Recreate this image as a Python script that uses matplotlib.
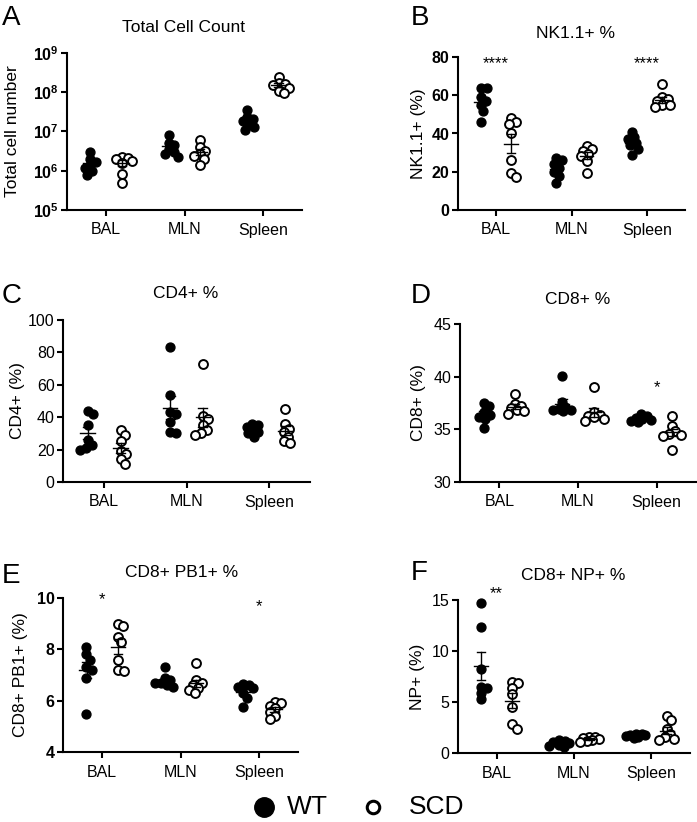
import numpy as np
import matplotlib
matplotlib.use("Agg")
import matplotlib.pyplot as plt
from matplotlib.lines import Line2D

plt.rcParams['font.family'] = ['Liberation Sans', 'DejaVu Sans']
plt.rcParams['mathtext.fontset'] = 'custom'
plt.rcParams['mathtext.rm'] = 'Liberation Sans'
plt.rcParams['mathtext.bf'] = 'Liberation Sans:bold'

categories = ["BAL", "MLN", "Spleen"]
groups = ["WT", "SCD"]

# ---- Panel A: Total cell count ----
total_wt = [[3.0e6, 2.0e6, 1.7e6, 1.4e6, 1.2e6, 1.0e6, 0.8e6],
            [8.2e6, 5.2e6, 4.5e6, 3.5e6, 3.0e6, 2.6e6, 2.3e6],
            [3.6e7, 2.3e7, 2.1e7, 1.8e7, 1.5e7, 1.3e7, 1.1e7]]
total_scd = [[2.3e6, 2.1e6, 2.0e6, 1.8e6, 1.6e6, 0.85e6, 0.5e6],
             [6.0e6, 4.0e6, 3.2e6, 2.6e6, 2.4e6, 2.0e6, 1.4e6],
             [2.5e8, 1.7e8, 1.6e8, 1.5e8, 1.3e8, 1.1e8, 0.95e8]]
total_ticks = [1e5, 1e6, 1e7, 1e8, 1e9]
total_ticklabels = [r'$\mathbf{10^{5}}$', r'$\mathbf{10^{6}}$', r'$\mathbf{10^{7}}$',
                    r'$\mathbf{10^{8}}$', r'$\mathbf{10^{9}}$']

# ---- Panel B: NK1.1+ % ----
nk_wt = [[64, 64, 59, 57, 55, 52, 46],
         [27, 26, 24, 22, 20, 18, 14],
         [41, 38, 37, 35, 34, 32, 29]]
nk_scd = [[48, 46, 45, 40, 26, 19.5, 17.5],
          [33.5, 32, 31, 29.5, 28, 25.5, 19.5],
          [66, 59, 58, 57, 55, 55, 54]]
nk_sig = ["****", "", "****"]
nk_ticks = [0, 20, 40, 60, 80]

# ---- Panel C: CD4+ % ----
cd4_wt = [[44, 42, 35, 26, 23, 21, 20],
          [83.5, 54, 43, 42, 37, 31, 30],
          [36, 35, 34, 33, 31, 30, 28]]
cd4_scd = [[32, 29, 25, 19, 17, 14, 11],
           [73, 41, 39, 35, 32, 30, 29],
           [45, 36, 33, 31, 28, 25, 24]]
cd4_ticks = [0, 20, 40, 60, 80, 100]

# ---- Panel D: CD8+ % ----
cd8_wt = [[37.5, 37.2, 36.6, 36.4, 36.2, 36.0, 35.1],
          [40.1, 37.6, 37.1, 36.9, 36.8, 36.8, 36.7],
          [36.5, 36.3, 36.1, 36.0, 35.9, 35.8, 35.7]]
cd8_scd = [[38.4, 37.4, 37.2, 37.0, 36.8, 36.7, 36.5],
           [39.0, 36.6, 36.4, 36.3, 36.2, 36.0, 35.8],
           [36.3, 35.3, 34.8, 34.6, 34.5, 34.4, 33.0]]
cd8_sig = ["", "", "*"]
cd8_ticks = [30, 35, 40, 45]

# ---- Panel E: CD8+ PB1+ % ----
pb1_wt = [[8.1, 7.8, 7.6, 7.3, 7.2, 6.9, 5.5],
          [7.3, 6.9, 6.8, 6.7, 6.7, 6.6, 6.55],
          [6.65, 6.6, 6.55, 6.5, 6.3, 6.1, 5.75]]
pb1_scd = [[9.0, 8.9, 8.5, 8.3, 7.6, 7.2, 7.15],
           [7.45, 6.8, 6.7, 6.6, 6.5, 6.4, 6.3],
           [5.95, 5.9, 5.8, 5.7, 5.55, 5.4, 5.3]]
pb1_sig = ["*", "", "*"]
pb1_sig_y = [9.95, 0, 9.65]
pb1_ticks = [4, 6, 8, 10]

# ---- Panel F: CD8+ NP+ % ----
np_wt = [[14.7, 12.4, 8.2, 6.5, 6.4, 5.9, 5.3],
         [1.3, 1.2, 1.1, 1.0, 0.8, 0.7, 0.6],
         [1.9, 1.85, 1.8, 1.75, 1.7, 1.6, 1.5]]
np_scd = [[7.0, 6.9, 6.4, 5.8, 4.5, 2.8, 2.4],
          [1.6, 1.6, 1.5, 1.4, 1.3, 1.2, 1.1],
          [3.6, 3.2, 2.4, 1.9, 1.6, 1.4, 1.3]]
np_sig = ["**", "", ""]
np_ticks = [0, 5, 10, 15]

W, H = 697, 822
fig = plt.figure(figsize=(W / 100, H / 100), dpi=100)


def ax_px(left, right, top, bottom):
    return fig.add_axes([left / W, 1 - bottom / H, (right - left) / W, (bottom - top) / H])


MS = 6.4
OFF = 0.2
SPREAD_PX = 6.0
MAX_OFF_PX = 10


def swarm_offsets(ax, xc, vals, diam_px):
    # simple beeswarm: horizontal pixel offsets limiting overlap
    disp = ax.transData.transform(np.column_stack([np.full(len(vals), xc), vals]))
    ys = disp[:, 1]
    order = np.argsort(-ys)
    placed = []
    offs = np.zeros(len(vals))
    for i in order:
        y = ys[i]
        cands = [0.0]
        for k in range(1, 40):
            cands += [k * 0.5, -k * 0.5]
        best = None
        bestd = -1
        for c in cands:
            if abs(c) > MAX_OFF_PX:
                continue
            d = min([np.hypot(c - px, y - py) for (px, py) in placed] or [1e9])
            if d >= diam_px:
                best = c
                break
            if d > bestd + 0.5:
                bestd = d
                fallback = c
        if best is None:
            best = fallback
        offs[i] = best
        placed.append((best, y))
    x0 = ax.transData.transform((xc, vals[0]))[0]
    inv = ax.transData.inverted()
    return np.array([inv.transform((x0 + offs[i], ys[i]))[0] for i in range(len(vals))])


def panel(ax, wt, scd, ylim, ticks, ticklabels=None, bold=False, log=False,
          ylabel="", sig=None, sig_y=None, xlim=(-0.5, 2.5)):
    if log:
        ax.set_yscale('log')
    ax.set_ylim(*ylim)
    ax.set_xlim(*xlim)
    for s in ['top', 'right']:
        ax.spines[s].set_visible(False)
    for s in ['left', 'bottom']:
        ax.spines[s].set_linewidth(1.5)
    ax.set_yticks(ticks)
    ax.minorticks_off()
    if ticklabels is not None:
        ax.set_yticklabels(ticklabels)
    ax.tick_params(axis='both', direction='out', length=4, width=1.5, labelsize=11.5)
    ax.tick_params(axis='x', pad=5)
    ax.tick_params(axis='y', pad=2)
    if bold:
        for t in ax.get_yticklabels():
            t.set_fontweight('bold')
    ax.set_xticks(range(len(categories)))
    ax.set_xticklabels(categories)
    ax.set_ylabel(ylabel, fontsize=12.5)
    for gi, (data, filled) in enumerate([(wt, True), (scd, False)]):
        for ci in range(len(categories)):
            vals = np.array(data[ci], dtype=float)
            xc = ci + (-OFF if gi == 0 else OFF)
            xs = swarm_offsets(ax, xc, vals, SPREAD_PX)
            if filled:
                ax.plot(xs, vals, 'o', ms=MS, mfc='black', mec='black', mew=1.0,
                        ls='none', zorder=3, clip_on=False)
            else:
                ax.plot(xs, vals, 'o', ms=MS, mfc='white', mec='black', mew=1.4,
                        ls='none', zorder=3, clip_on=False)
            m = vals.mean()
            se = vals.std(ddof=1) / np.sqrt(len(vals))
            ax.plot([xc - 0.09, xc + 0.09], [m, m], color='black', lw=1.0, zorder=4)
            ax.plot([xc, xc], [m - se, m + se], color='black', lw=1.0, zorder=4)
            for e in (m - se, m + se):
                ax.plot([xc - 0.055, xc + 0.055], [e, e], color='black', lw=1.0, zorder=4)
    if sig is not None:
        for ci, s in enumerate(sig):
            if s:
                yy = sig_y[ci] if isinstance(sig_y, (list, tuple)) else sig_y
                ax.text(ci, yy, s, ha='center', va='center', fontsize=12, clip_on=False)


axA = ax_px(67, 302, 53, 210)
panel(axA, total_wt, total_scd, (1e5, 1e9), total_ticks, total_ticklabels,
      bold=True, log=True, ylabel="Total cell number")
axA.yaxis.set_label_coords(-0.2, 0.5)

axB = ax_px(458, 685, 57, 210)
panel(axB, nk_wt, nk_scd, (0, 80), nk_ticks, bold=True, ylabel="NK1.1+ (%)",
      sig=nk_sig, sig_y=76.5)
axB.yaxis.set_label_coords(-0.141, 0.5)

axC = ax_px(63, 310, 320, 482)
panel(axC, cd4_wt, cd4_scd, (0, 100), cd4_ticks, ylabel="CD4+ (%)")
axC.yaxis.set_label_coords(-0.154, 0.5)

axD = ax_px(460, 696, 324, 482)
panel(axD, cd8_wt, cd8_scd, (30, 45), cd8_ticks, ylabel="CD8+ (%)",
      sig=cd8_sig, sig_y=39.0)
axD.yaxis.set_label_coords(-0.144, 0.5)

axE = ax_px(63, 298, 598, 752)
panel(axE, pb1_wt, pb1_scd, (4, 10), pb1_ticks, bold=True, ylabel="CD8+ PB1+ (%)",
      sig=pb1_sig, sig_y=pb1_sig_y)
axE.yaxis.set_label_coords(-0.149, 0.5)

axF = ax_px(458, 690, 600, 753)
panel(axF, np_wt, np_scd, (0, 15), np_ticks, ylabel="NP+ (%)",
      sig=np_sig, sig_y=15.6)
axF.yaxis.set_label_coords(-0.142, 0.5)

# titles
titles = [("Total Cell Count", 184, 27), ("NK1.1+ %", 575, 33), ("CD4+ %", 186, 294),
          ("CD8+ %", 578, 300), ("CD8+ PB1+ %", 182, 572), ("CD8+ NP+ %", 573, 575)]
for t, x, y in titles:
    fig.text(x / W, 1 - y / H, t, ha='center', va='center', fontsize=12.5)

letters = [("A", 2, 25), ("B", 411, 25), ("C", 2, 303), ("D", 411, 303),
           ("E", 2, 583), ("F", 411, 580)]
for t, x, y in letters:
    fig.text(x / W, 1 - y / H, t, ha='left', va='baseline', fontsize=20)

# legend
fig.add_artist(Line2D([264 / W], [1 - 807 / H], marker='o', ms=14, mfc='black', mec='black',
                      ls='none', transform=fig.transFigure))
fig.add_artist(Line2D([373 / W], [1 - 807 / H], marker='o', ms=9, mfc='white', mec='black',
                      mew=2.2, ls='none', transform=fig.transFigure))
fig.text(287 / W, 1 - 807 / H, "WT", ha='left', va='center', fontsize=19)
fig.text(409 / W, 1 - 807 / H, "SCD", ha='left', va='center', fontsize=19)

fig.savefig("out.png", dpi=100)
